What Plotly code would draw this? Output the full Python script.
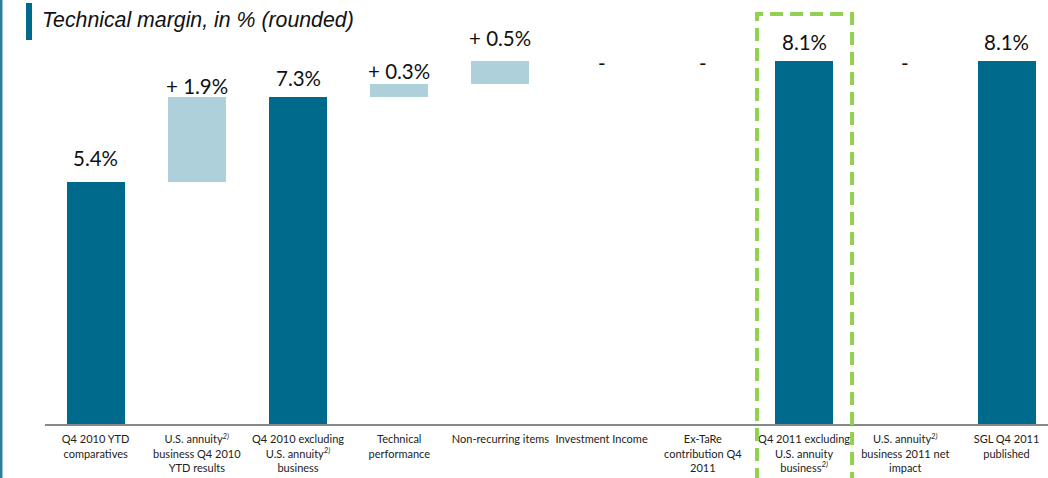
import plotly.graph_objects as go

SUP = "<sup><i>2)</i></sup>"
categories = [
    "Q4 2010 YTD<br>comparatives",
    "U.S. annuity" + SUP + "<br>business Q4 2010<br>YTD results",
    "Q4 2010 excluding<br>U.S. annuity" + SUP + "<br>business",
    "Technical<br>performance",
    "Non-recurring items",
    "Investment Income",
    "Ex-TaRe<br>contribution Q4<br>2011",
    "Q4 2011 excluding<br>U.S. annuity<br>business" + SUP,
    "U.S. annuity" + SUP + "<br>business 2011 net<br>impact",
    "SGL Q4 2011<br>published",
]
values = [5.4, 1.9, 7.3, 0.3, 0.5, 0.0, 0.0, 8.1, 0.0, 8.1]
kinds = ["total", "delta", "total", "delta", "delta", "delta", "delta", "total", "delta", "total"]
value_labels = ["5.4%", "+ 1.9%", "7.3%", "+ 0.3%", "+ 0.5%", "-", "-", "8.1%", "-", "8.1%"]

# style: label offsets in px above bar top
label_shift = [24, 11, 19, 13, 23, -2, -2, 19, -2, 19]

DARK = "#006A8C"
LIGHT = "#ADD0DB"

x = list(range(len(categories)))
bases, tops, colors = [], [], []
running = 0.0
for v, k in zip(values, kinds):
    if k == "total":
        bases.append(0.0)
        running = v
        tops.append(v)
        colors.append(DARK)
    else:
        bases.append(running)
        running = running + v
        tops.append(running)
        colors.append(LIGHT)

fig = go.Figure()
fig.add_trace(go.Bar(
    x=x, y=values, base=bases, width=0.573,
    marker=dict(color=colors, line=dict(width=0)),
    hoverinfo="skip", showlegend=False,
))

for i, (t, lab, sh) in enumerate(zip(tops, value_labels, label_shift)):
    fig.add_annotation(x=i, y=t, text=lab, showarrow=False, yanchor="middle",
                       yshift=sh, font=dict(family="Lato", size=20.5, color="#111111"))

W = 1003.0
H = 404.0
def px(xp):
    return (xp - 45) / W
def py(yp):
    return (424 - yp) / H

# title
fig.add_annotation(xref="paper", yref="paper", x=px(40), y=py(20),
                   xanchor="left", yanchor="middle",
                   text="<i>Technical margin, in % (rounded)</i>", showarrow=False,
                   font=dict(family="Liberation Sans, Arial", size=21.3, color="#111111"))

# title bar
fig.add_shape(type="rect", xref="paper", yref="paper", x0=px(26), x1=px(32), y0=py(40), y1=py(3),
              fillcolor=DARK, line=dict(width=0), layer="above")
# left edge line
fig.add_shape(type="rect", xref="paper", yref="paper", x0=px(0), x1=px(2.5), y0=py(480), y1=py(-2),
              fillcolor="#2E7F9E", line=dict(width=0), layer="above")
# green dashed highlight box
fig.add_shape(type="rect", xref="x", yref="paper", x0=6.535, x1=7.474, y0=py(490), y1=py(14),
              line=dict(color="#92D050", width=4, dash="13px,7px"), fillcolor="rgba(0,0,0,0)",
              layer="above")

fig.update_layout(
    width=1048, height=478,
    margin=dict(l=45, r=0, t=20, b=54),
    paper_bgcolor="white", plot_bgcolor="white",
    bargap=0,
    xaxis=dict(range=[-0.5, 9.41], tickvals=x, ticktext=categories, showgrid=False,
               zeroline=False, showline=True, linecolor="#888888", linewidth=2,
               ticks="", tickfont=dict(family="Lato", size=11, color="#222222"),
               ticklabelstandoff=4, tickangle=0, fixedrange=True),
    yaxis=dict(range=[0, 9.018], visible=False, showgrid=False, zeroline=False, fixedrange=True),
    font=dict(family="Lato"),
)

fig.write_html("out.html", config={"displayModeBar": False},
               post_script="document.body.style.margin='0';document.body.style.overflow='hidden';")
